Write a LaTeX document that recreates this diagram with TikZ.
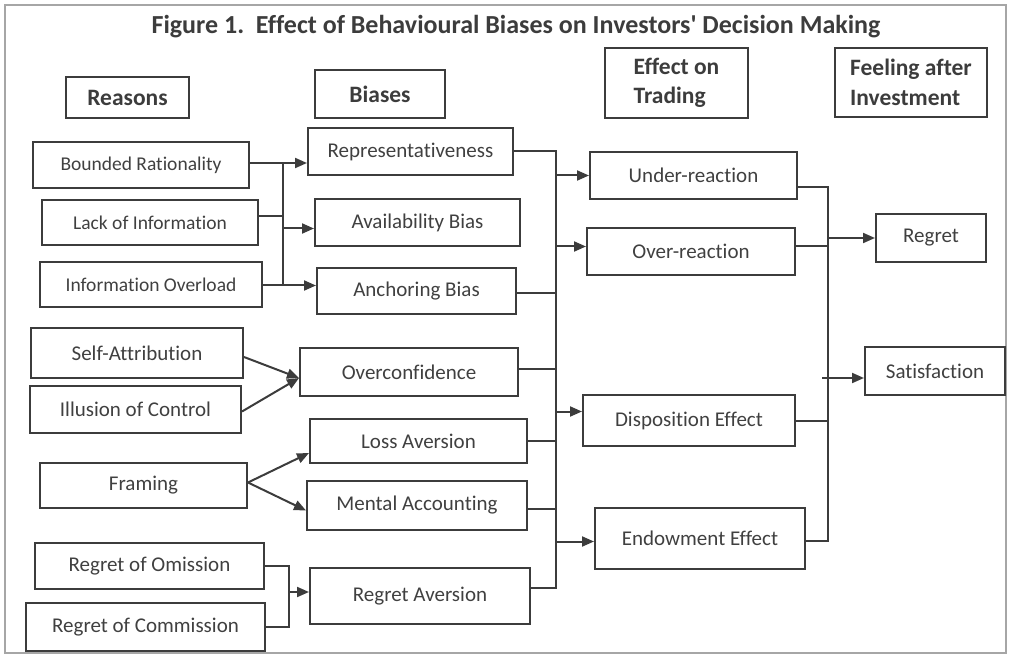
\documentclass[tikz,border=0pt]{standalone}
\usepackage{fontspec}
\setmainfont{Carlito}
\newfontfamily\cf{Carlito}[Ligatures={NoCommon}]
\usetikzlibrary{arrows.meta,calc}
\definecolor{ink}{HTML}{3C3C3C}
\definecolor{txt}{HTML}{404040}
\newcommand\mybox[7]{%
  \node[#6, minimum width={(#4-#2)*1pt}, minimum height={(#5-#3)*1pt}] (#1) at ({(#2+#4)/2},{(#3+#5)/2}) {#7};}
\begin{document}
\begin{tikzpicture}[x=1pt,y=-1pt,
  bx/.style={draw=ink, line width=2pt, inner sep=0pt, text=txt, font=\cf\fontsize{21}{25}\selectfont},
  sm/.style={bx, font=\cf\fontsize{19.5}{23}\selectfont},
  hd/.style={bx, text=ink, align=left, font=\cf\fontsize{23.5}{29.5}\selectfont\bfseries},
  con/.style={draw=ink, line width=2pt},
  arr/.style={con, -{Triangle[length=12pt,width=10pt]}}]
\useasboundingbox (0,0) rectangle (1010,655);
\draw[gray!70, line width=2pt] (5,5) rectangle (1006,653);
\node[text=ink, font=\cf\fontsize{26}{30}\selectfont\bfseries] (title) at (516,27) {Figure 1.\ \ Effect of Behavioural Biases on Investors' Decision Making};
% headers
\mybox{H1}{66}{77}{189}{118}{hd}{Reasons}
\mybox{H2}{315}{70}{445}{118}{hd}{Biases}
\mybox{H3}{605}{48}{748}{118}{hd}{Effect on\\Trading}
\mybox{H4}{835}{48}{987}{117}{hd}{Feeling after\\Investment}
% reasons
\mybox{BR}{33}{142}{249}{188}{sm}{Bounded Rationality}
\mybox{LI}{42}{200}{258}{245}{sm}{Lack of Information}
\mybox{IO}{40}{262}{262}{307}{sm}{Information Overload}
\mybox{SA}{31}{328}{243}{378}{bx}{Self-Attribution}
\mybox{IC}{30}{386}{241}{433}{bx}{Illusion of Control}
\mybox{FR}{40}{463}{247}{508}{bx}{Framing}
\mybox{RO}{35}{543}{264}{589}{bx}{Regret of Omission}
\mybox{RC}{26}{603}{265}{651}{bx}{Regret of Commission}
% biases
\mybox{REP}{308}{128}{513}{175}{bx}{Representativeness}
\mybox{AV}{315}{199}{520}{246}{bx}{Availability Bias}
\mybox{AN}{317}{268}{516}{314}{bx}{Anchoring Bias}
\mybox{OC}{300}{348}{518}{396}{bx}{Overconfidence}
\mybox{LA}{310}{419}{527}{463}{bx}{Loss Aversion}
\mybox{MA}{307}{481}{527}{530}{bx}{Mental Accounting}
\mybox{RA}{310}{568}{530}{624}{bx}{Regret Aversion}
% effects
\mybox{UR}{590}{152}{797}{199}{bx}{Under-reaction}
\mybox{OR}{587}{228}{795}{275}{bx}{Over-reaction}
\mybox{DE}{583}{395}{795}{446}{bx}{Disposition Effect}
\mybox{EE}{595}{508}{805}{569}{bx}{Endowment Effect}
% feelings
\mybox{RG}{876}{214}{986}{262}{bx}{Regret}
\mybox{SAT}{865}{347}{1005}{395}{bx}{Satisfaction}
% bus coordinates
\coordinate (b1) at (283,0);
\coordinate (b3) at (289,0);
\coordinate (b2) at (556,0);
\coordinate (b4) at (828,0);
% reasons -> biases (first group)
\draw[arr] ([yshift=2pt]BR.east) -- ([yshift=2pt]BR.east -| REP.west);
\draw[con] ([yshift=2pt]BR.east -| b1) -- (b1 |- IO.east);
\draw[con] ([yshift=6pt]LI.east) -- ([yshift=6pt]LI.east -| b1);
\draw[arr] ([yshift=-6pt]b1 |- AV.west) -- ([yshift=-6pt]AV.west);
\draw[arr] ([yshift=-1pt]IO.east) -- ([yshift=-1pt]IO.east -| AN.west);
% overconfidence
\draw[arr] ([yshift=-4pt]SA.east) -- ([yshift=-6pt]OC.west);
\draw[arr] ([yshift=-2pt]IC.east) -- ([yshift=-6pt]OC.west);
% framing
\draw[arr] ([yshift=3pt]FR.east) -- ([yshift=-12pt]LA.west);
\draw[arr] ([yshift=3pt]FR.east) -- ([yshift=-5pt]MA.west);
% regret aversion
\draw[con] (RO.east) -- (RO.east -| b3) -- (b3 |- RC.east) -- (RC.east);
\draw[arr] ([yshift=4pt]b3 |- RA.west) -- ([yshift=4pt]RA.west);
% biases -> effects
\draw[con] (REP.east) -- (REP.east -| b2) -- ([yshift=8pt]b2 |- RA.east) -- ([yshift=8pt]RA.east);
\draw[con] ([yshift=-2pt]AN.east) -- ([yshift=-2pt]AN.east -| b2);
\draw[con] ([yshift=3pt]OC.east) -- ([yshift=3pt]OC.east -| b2);
\draw[con] (LA.east) -- (LA.east -| b2);
\draw[con] ([yshift=-3pt]MA.east) -- ([yshift=-3pt]MA.east -| b2);
\draw[arr] (b2 |- UR.west) -- (UR.west);
\draw[arr] ([yshift=5pt]b2 |- OR.west) -- ([yshift=5pt]OR.west);
\draw[arr] ([yshift=9pt]b2 |- DE.west) -- ([yshift=9pt]DE.west);
\draw[arr] ([yshift=-3pt]b2 |- EE.west) -- ([yshift=-3pt]EE.west);
% effects -> feelings
\draw[con] ([yshift=-12pt]UR.east) -- ([yshift=-12pt]UR.east -| b4) -- ([yshift=-2pt]b4 |- EE.east) -- ([yshift=-2pt]EE.east);
\draw[con] ([yshift=5pt]OR.east) -- ([yshift=5pt]OR.east -| b4);
\draw[con] (DE.east) -- (DE.east -| b4);
\draw[arr] (b4 |- RG.west) -- (RG.west);
\draw[arr] ([xshift=-6pt,yshift=-7pt]b4 |- SAT.west) -- ([yshift=-7pt]SAT.west);
\end{tikzpicture}
\end{document}
